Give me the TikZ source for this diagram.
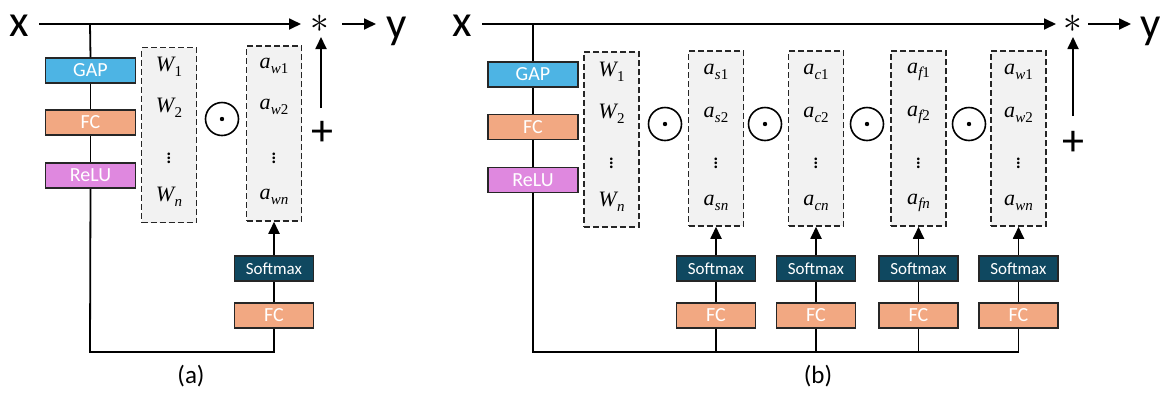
\documentclass[tikz,border=0pt]{standalone}
\usepackage{fontspec}
\usepackage{graphicx}
\setmainfont{Carlito}
\newfontfamily\tms{Liberation Serif}
\usetikzlibrary{arrows.meta}
\definecolor{gapc}{HTML}{4DB4E4}
\definecolor{fcc}{HTML}{F2A882}
\definecolor{reluc}{HTML}{DF88DF}
\definecolor{smc}{HTML}{0F4860}
\definecolor{vecc}{HTML}{F2F2F2}
\newcommand\mv[2]{{\tms\fontsize{22}{22}\selectfont{\itshape #1}\kern0.3pt\raisebox{-4.5pt}{\fontsize{15}{15}\selectfont #2}}}
\newcommand\vd{{\fontsize{22}{22}\selectfont$\vdots$}}
\newcommand\bigast{{\fontsize{24}{24}\selectfont\scalebox{1.5}{$\ast$}}}
\begin{document}
\begin{tikzpicture}[x=1pt,y=-1pt,
  lay/.style={draw=black!85, line width=1.5pt, minimum width=90pt, minimum height=25pt, inner sep=0pt, text=white, font=\fontsize{20}{20}\selectfont},
  gapbox/.style={lay, fill=gapc},
  fcbox/.style={lay, fill=fcc},
  relubox/.style={lay, fill=reluc},
  fcsmall/.style={lay, fill=fcc, minimum width=79pt},
  smbox/.style={lay, fill=smc, minimum width=79pt, font=\fontsize{17}{17}\selectfont},
  vecbox/.style={draw=black!85, dash pattern=on 6pt off 3pt, line width=1.5pt, fill=vecc, minimum width=55pt, minimum height=175pt, inner sep=0pt},
  opc/.style={circle, draw, line width=1.6pt, minimum size=33pt, inner sep=0pt},
  ent/.style={inner sep=0pt},
  big/.style={inner sep=0pt, font=\fontsize{45}{45}\selectfont},
  symb/.style={inner sep=0pt},
  plusf/.style={inner sep=0pt, font=\fontsize{44}{44}\selectfont},
  lbl/.style={inner sep=0pt, font=\fontsize{25}{25}\selectfont},
  conn/.style={line width=1.8pt},
  thick conn/.style={line width=2.8pt},
  arr/.style={line width=1.8pt, -{Triangle[length=12pt,width=11pt]}}
]
\useasboundingbox (0,0) rectangle (1160,392);

% ---------------- panel (a) ----------------
\node[big] (xa) at (19,26) {x};
\node[big] (ya) at (397,31) {y};
\node[symb] (sta) at (320,24) {\bigast};
\node[plusf] (pa) at (322,133) {+};
\coordinate (xa0) at (39,24);
\coordinate (ja) at (90,24);
\coordinate (sta0) at (301,24);
\coordinate (sta1) at (342,24);
\coordinate (ya0) at (376,24);
\coordinate (pa0) at (321,108);
\coordinate (sta2) at (321,37);

\node[gapbox] (ga) at (90.5,70.5) {GAP};
\node[fcbox] (fa) at (90.5,122.5) {FC};
\node[relubox] (ra) at (90.5,175.5) {ReLU};

\node[vecbox] (Wa) at (169,135) {};
\node[ent] at (169,67) {\mv{W}{1}};
\node[ent] at (169,108) {\mv{W}{2}};
\node[ent] at (169,155) {\vd};
\node[ent] at (169,197) {\mv{W}{\itshape n}};

\node[opc] (oa) at (222,119) {};
\fill (oa.center) circle (2.2);

\node[vecbox] (Aa) at (274,133.5) {};
\node[ent] at (274,66) {\mv{a}{{\itshape w}1}};
\node[ent] at (274,107) {\mv{a}{{\itshape w}2}};
\node[ent] at (274,155) {\vd};
\node[ent] at (274,197) {\mv{a}{\itshape wn}};

\node[smbox] (sa) at (274,268.5) {Softmax};
\node[fcsmall] (fa2) at (274,315.5) {FC};
\coordinate (ba) at (90,352);

\draw[arr] (xa0) -- (sta0);
\draw[arr] (sta1) -- (ya0);
\draw[arr] (pa0) -- (sta2);
\draw[conn] (ja) -- (ga.north);
\draw[conn] (ga.south) -- (fa.north);
\draw[conn] (fa.south) -- (ra.north);
\draw[conn] (ra.south) -- (ba) -| (fa2.south);
\draw[conn] (fa2.north) -- (sa.south);
\draw[arr] (sa.north) -- (Aa.south);

\node[lbl] (la) at (191,376) {(a)};

% ---------------- panel (b) ----------------
\node[big] (xb) at (462,26) {x};
\node[big] (yb) at (1151,31) {y};
\node[symb] (stb) at (1073,24) {\bigast};
\node[plusf] (pb) at (1073,143) {+};
\coordinate (xb0) at (482,24);
\coordinate (jb) at (533,24);
\coordinate (stb0) at (1056,24);
\coordinate (stb1) at (1088,24);
\coordinate (yb0) at (1131,24);
\coordinate (pb0) at (1073,116);
\coordinate (stb2) at (1073,37);

\node[gapbox] (gb) at (533,74.5) {GAP};
\node[fcbox] (fb) at (533,127) {FC};
\node[relubox] (rb) at (533,180) {ReLU};

\node[vecbox] (Wb) at (611.5,139.5) {};
\node[ent] at (611.5,72) {\mv{W}{1}};
\node[ent] at (611.5,114) {\mv{W}{2}};
\node[ent] at (611.5,160) {\vd};
\node[ent] at (611.5,202) {\mv{W}{\itshape n}};

\foreach \ox/\nm in {665/o1,765/o2,867/o3,969/o4}{
  \node[opc] (\nm) at (\ox,124) {};
  \fill (\nm.center) circle (2.2);
}

\foreach \cx/\sb/\nm in {716/s/As,816/c/Ac,918.5/f/Af,1018.5/w/Aw}{
  \node[vecbox] (\nm) at (\cx,138.5) {};
  \node[ent] at (\cx,72) {\mv{a}{{\itshape\sb}1}};
  \node[ent] at (\cx,115) {\mv{a}{{\itshape\sb}2}};
  \node[ent] at (\cx,160) {\vd};
  \node[ent] at (\cx,203) {\mv{a}{\itshape\sb n}};
  \node[smbox] (sm\nm) at (\cx,268.5) {Softmax};
  \node[fcsmall] (fc\nm) at (\cx,315.5) {FC};
  \draw[conn] (fc\nm.north) -- (sm\nm.south);
  \draw[arr] (sm\nm.north) -- (\nm.south);
}
\coordinate (bb) at (533,352);
\coordinate (bbe) at (1018.5,352);

\draw[arr] (xb0) -- (stb0);
\draw[arr] (stb1) -- (yb0);
\draw[arr] (pb0) -- (stb2);
\draw[conn] (jb) -- (gb.north);
\draw[conn] (gb.south) -- (fb.north);
\draw[conn] (fb.south) -- (rb.north);
\draw[thick conn] (rb.south) -- (bb) -- (bbe);
\draw[conn] (bbe) -- (fcAw.south);
\draw[conn] (fcAs.south) -- (fcAs.south |- bb);
\draw[conn] (fcAc.south) -- (fcAc.south |- bb);
\draw[conn] (fcAf.south) -- (fcAf.south |- bb);

\node[lbl] (lb) at (818,376) {(b)};
\end{tikzpicture}
\end{document}
